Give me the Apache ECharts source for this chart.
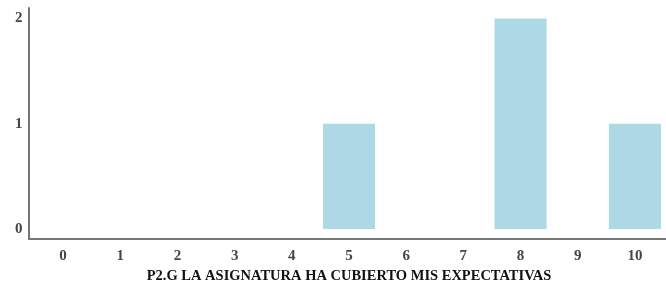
<!DOCTYPE html>
<html>
<head>
<meta charset="utf-8">
<script src="https://cdn.jsdelivr.net/npm/echarts@6/dist/echarts.min.js"></script>
<style>
  html, body { margin: 0; padding: 0; background: #fff; }
  #chart { width: 666px; height: 286px; }
</style>
</head>
<body>
<div id="chart"></div>
<script>
var categories = ['0', '1', '2', '3', '4', '5', '6', '7', '8', '9', '10'];
var counts = [0, 0, 0, 0, 0, 1, 0, 0, 2, 0, 1];
var xTitle = 'P2.G LA ASIGNATURA HA CUBIERTO MIS EXPECTATIVAS';

var myChart = echarts.init(document.getElementById('chart'));
var labelFont = { fontFamily: 'Liberation Serif', fontWeight: 'bold', fontSize: 15, color: '#4a4343' };
var frameLine = { show: true, onZero: false, lineStyle: { color: '#777', width: 2 } };

var option = {
    animation: false,
    grid: [
        { left: 34.5, right: 2.5, top: 8, bottom: 57, outerBoundsMode: 'none' },
        // frame grid: only draws the L-shaped axis lines
        { left: 29, right: 0, top: 8, bottom: 47, outerBoundsMode: 'none' }
    ],
    xAxis: [{
        type: 'category',
        gridIndex: 0,
        data: categories,
        name: xTitle,
        nameLocation: 'middle',
        nameGap: 40,
        nameTextStyle: { fontFamily: 'Liberation Serif', fontWeight: 'bold', fontSize: 14.5, color: '#111' },
        axisLine: { show: false },
        axisTick: { show: false },
        axisLabel: Object.assign({ margin: 20 }, labelFont)
    }, {
        type: 'value',
        gridIndex: 1,
        min: 0, max: 1,
        axisLine: frameLine,
        axisTick: { show: false },
        axisLabel: { show: false },
        splitLine: { show: false }
    }],
    yAxis: [{
        type: 'value',
        gridIndex: 0,
        min: 0,
        max: 2.1,
        interval: 1,
        splitLine: { show: false },
        axisLine: { show: false },
        axisTick: { show: false },
        axisLabel: Object.assign({ margin: 12, padding: [4, 0, 0, 0], showMaxLabel: false }, labelFont)
    }, {
        type: 'value',
        gridIndex: 1,
        min: 0, max: 1,
        axisLine: frameLine,
        axisTick: { show: false },
        axisLabel: { show: false },
        splitLine: { show: false }
    }],
    series: [{
        type: 'bar',
        xAxisIndex: 0,
        yAxisIndex: 0,
        data: counts,
        barCategoryGap: '9%',
        itemStyle: { color: '#ADD8E6' }
    }]
};
myChart.setOption(option, true);
</script>
</body>
</html>
